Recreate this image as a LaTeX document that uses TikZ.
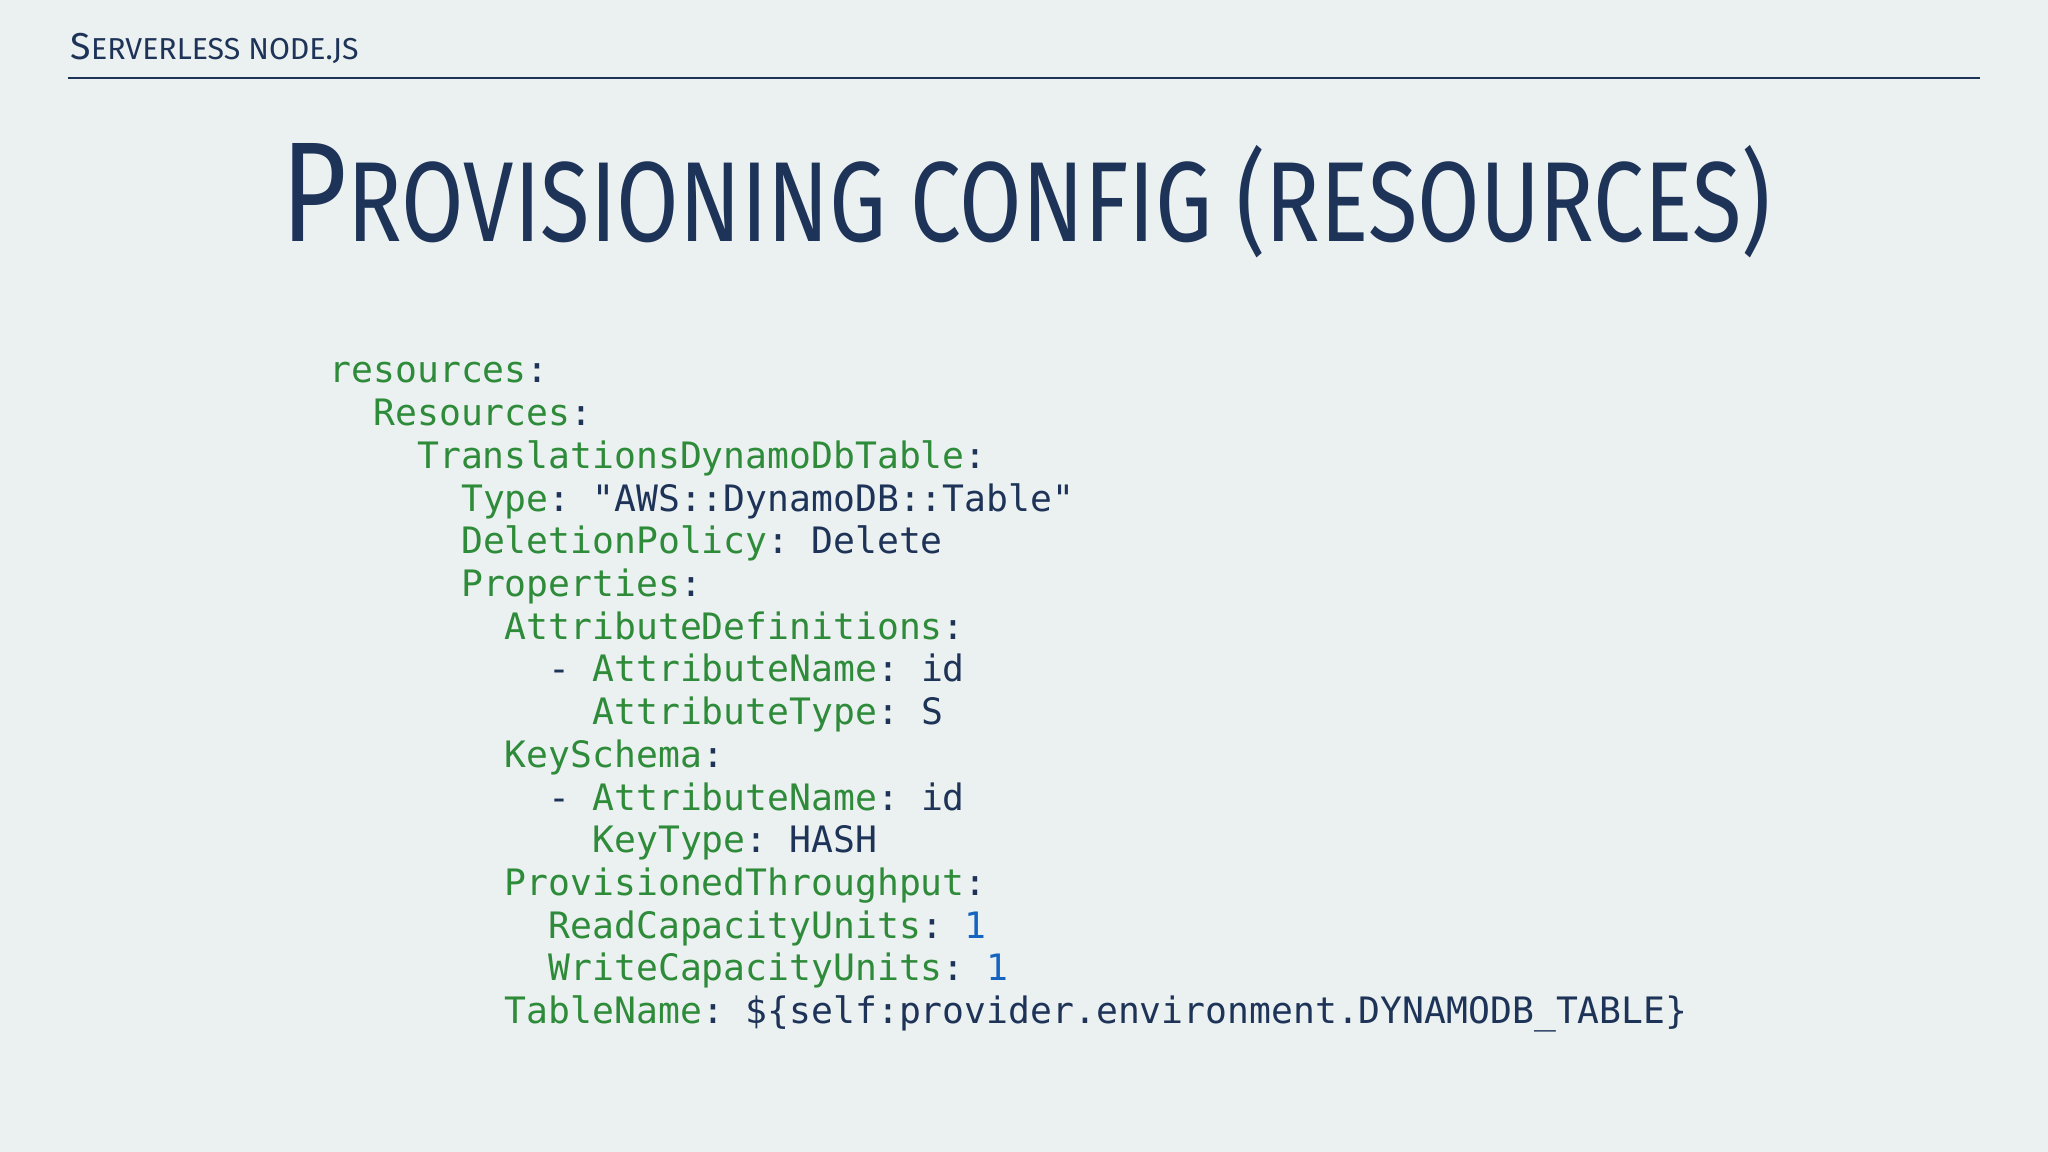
\documentclass[tikz,border=0pt]{standalone}
\usepackage{fontspec}
\setmainfont{Fira Sans}
\setmonofont{DejaVu Sans Mono}
\usepackage{graphicx}
\definecolor{bg}{HTML}{EBF0F0}
\definecolor{navy}{HTML}{1E3358}
\definecolor{kgreen}{HTML}{2E8B3A}
\definecolor{kblue}{HTML}{1565C0}
\newcommand{\K}[1]{\textcolor{kgreen}{#1}}
\newcommand{\B}[1]{\textcolor{kblue}{#1}}
\tikzset{code/.style={anchor=base west,inner sep=0pt,text=navy,font=\ttfamily\fontsize{10.35pt}{12pt}\selectfont}}
\begin{document}
\begin{tikzpicture}
\fill[bg] (0,0) rectangle (20.48,-11.52);
\useasboundingbox (0,0) rectangle (20.48,-11.52);
\node[anchor=base west,inner sep=0pt,text=navy] (hdr) at (0.70,-0.60)
 {\resizebox{2.88cm}{!}{\fontsize{13pt}{14pt}\selectfont S\fontsize{10.5pt}{12pt}\selectfont ERVERLESS NODE.JS}};
\coordinate (l1) at (0.68,-0.78);
\coordinate (l2) at (19.80,-0.78);
\draw[navy,line width=0.8pt] (l1) -- (l2);
\node[anchor=base west,inner sep=0pt,text=navy] (title) at (2.81,-2.42)
 {\resizebox{14.89cm}{0.98cm}{\fontsize{40pt}{44pt}\selectfont P\fontsize{32pt}{36pt}\selectfont ROVISIONING CONFIG (RESOURCES)}};
\foreach \i/\t in {
0/{\K{resources}:},
1/{\ \ \K{Resources}:},
2/{\ \ \ \ \K{TranslationsDynamoDbTable}:},
3/{\ \ \ \ \ \ \K{Type}: "AWS::DynamoDB::Table"},
4/{\ \ \ \ \ \ \K{DeletionPolicy}: Delete},
5/{\ \ \ \ \ \ \K{Properties}:},
6/{\ \ \ \ \ \ \ \ \K{AttributeDefinitions}:},
7/{\ \ \ \ \ \ \ \ \ \ - \K{AttributeName}: id},
8/{\ \ \ \ \ \ \ \ \ \ \ \ \K{AttributeType}: S},
9/{\ \ \ \ \ \ \ \ \K{KeySchema}:},
10/{\ \ \ \ \ \ \ \ \ \ - \K{AttributeName}: id},
11/{\ \ \ \ \ \ \ \ \ \ \ \ \K{KeyType}: HASH},
12/{\ \ \ \ \ \ \ \ \K{ProvisionedThroughput}:},
13/{\ \ \ \ \ \ \ \ \ \ \K{ReadCapacityUnits}: \B{1}},
14/{\ \ \ \ \ \ \ \ \ \ \K{WriteCapacityUnits}: \B{1}},
15/{\ \ \ \ \ \ \ \ \K{TableName}: \$\{self:provider.environment.DYNAMODB\_TABLE\}}}
{\node[code] (c\i) at (3.29,-3.83-0.427*\i) {\t};}
\end{tikzpicture}
\end{document}
